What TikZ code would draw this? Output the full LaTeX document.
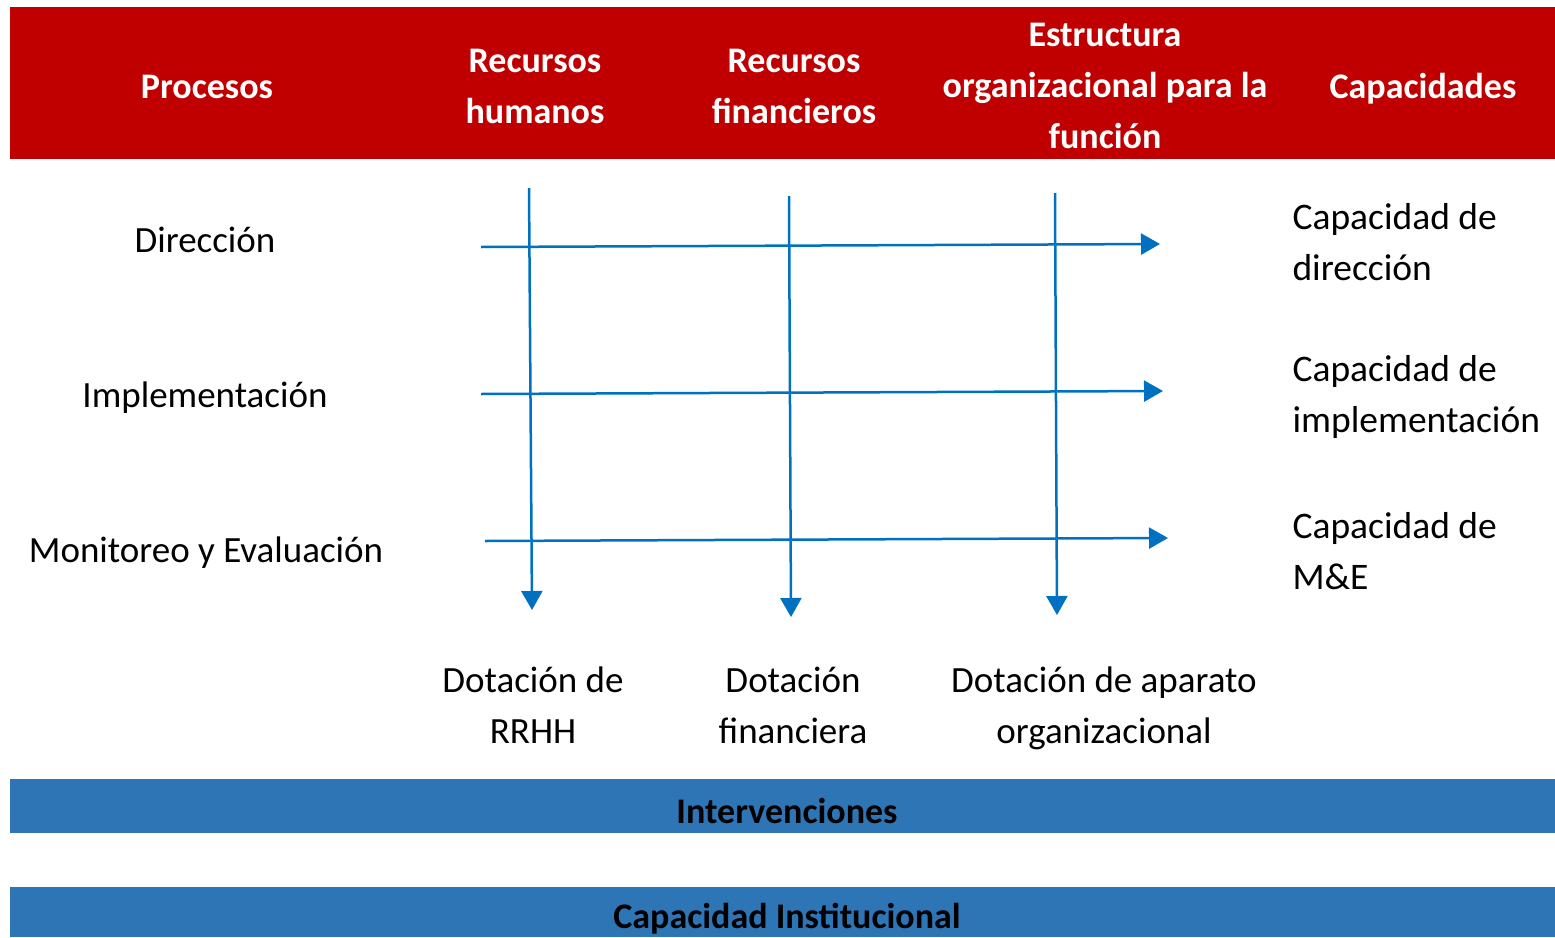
\documentclass[tikz,border=0pt]{standalone}
\usepackage{fontspec}
\setmainfont{Carlito}
\usetikzlibrary{arrows.meta}
\definecolor{hdred}{HTML}{C00000}
\definecolor{bandblue}{HTML}{2E75B6}
\definecolor{arrblue}{HTML}{0070C0}
\tikzset{
  flow/.style={arrblue, line width=2.5pt, -{Triangle[length=19pt,width=21pt]}},
  hdtext/.style={white, font=\fontsize{36}{51}\selectfont\bfseries, align=center},
  bodytext/.style={font=\fontsize{37}{51}\selectfont, align=center},
  captext/.style={font=\fontsize{37.5}{51}\selectfont, align=left, anchor=west},
  bandtext/.style={black, font=\fontsize{36}{51}\selectfont\bfseries}
}
\begin{document}
\begin{tikzpicture}[x=1pt, y=-1pt]
    \useasboundingbox (0,0) rectangle (1555,937);
    % Draw bands
    \fill [hdred] (10,7) rectangle (1555,159);
    \fill [bandblue] (10,779) rectangle (1555,833);
    \fill [bandblue] (10,887) rectangle (1555,937);
    % Header
    \node [hdtext] (hproc) at (207,87) {Procesos};
    \node [hdtext] (hrh) at (535,86) {Recursos\\humanos};
    \node [hdtext] (hrf) at (794,86) {Recursos\\financieros};
    \node [hdtext] (hest) at (1105,86) {Estructura\\organizacional para la\\función};
    \node [hdtext] (hcap) at (1423,89) {Capacidades};
    % Processes
    \node [bodytext] (pdir) at (205,240) {Dirección};
    \node [bodytext] (pimp) at (205,398) {Implementación};
    \node [bodytext] (pmon) at (206,553) {Monitoreo y Evaluación};
    % Capacities
    \node [captext] (cdir) at (1289,242) {Capacidad de\\dirección};
    \node [captext] (cimp) at (1289,397) {Capacidad de\\implementación};
    \node [captext] (cme) at (1289,551) {Capacidad de\\M\&E};
    % Endowments
    \node [bodytext] (drh) at (533,705) {Dotación de\\RRHH};
    \node [bodytext] (dfin) at (793,705) {Dotación\\financiera};
    \node [bodytext] (dorg) at (1104,708) {Dotación de aparato\\organizacional};
    % Bottom bands
    \node [bandtext] (interv) at (787,811) {Intervenciones};
    \node [bandtext] (capinst) at (787,919) {Capacidad Institucional};
    % Arrow ends
    \coordinate (ha) at (481,247);
    \coordinate (hb) at (1160,244);
    \coordinate (ia) at (481,394);
    \coordinate (ib) at (1163,391);
    \coordinate (ma) at (485,541);
    \coordinate (mb) at (1168,538);
    \coordinate (va) at (529,188);
    \coordinate (vb) at (532,610);
    \coordinate (fa) at (789,196);
    \coordinate (fb) at (791,617);
    \coordinate (oa) at (1055,193);
    \coordinate (ob) at (1057,615);
    \draw [flow] (va) -- (vb);
    \draw [flow] (fa) -- (fb);
    \draw [flow] (oa) -- (ob);
    \draw [flow] (ha) -- (hb);
    \draw [flow] (ia) -- (ib);
    \draw [flow] (ma) -- (mb);
\end{tikzpicture}
\end{document}
